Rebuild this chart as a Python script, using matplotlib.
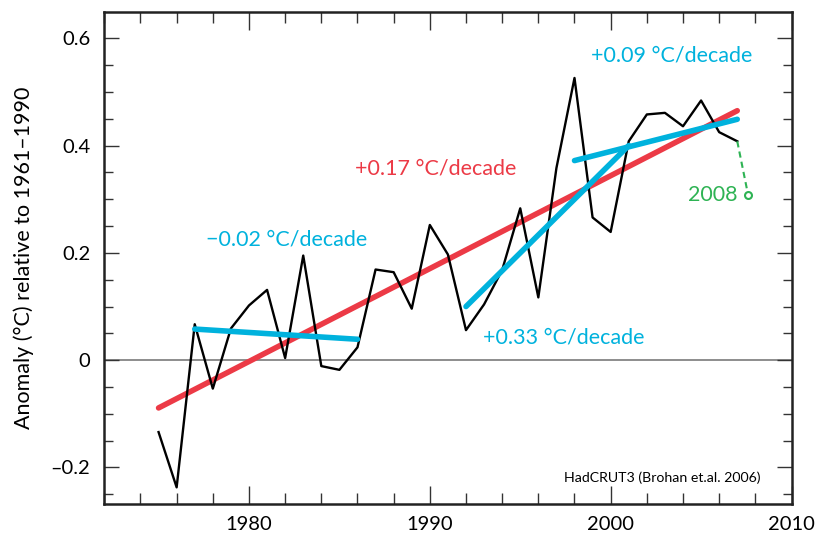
import matplotlib
matplotlib.use("Agg")
import matplotlib.pyplot as plt
from matplotlib.ticker import MultipleLocator

plt.rcParams['font.family'] = ['Lato', 'DejaVu Sans']

# HadCRUT3 annual anomalies
years = [1975, 1976, 1977, 1978, 1979, 1980, 1981, 1982, 1983, 1984, 1985,
         1986, 1987, 1988, 1989, 1990, 1991, 1992, 1993, 1994, 1995, 1996,
         1997, 1998, 1999, 2000, 2001, 2002, 2003, 2004, 2005, 2006, 2007]
anomaly = [-0.134, -0.237, 0.067, -0.053, 0.059, 0.102, 0.131, 0.004, 0.195,
           -0.011, -0.018, 0.024, 0.169, 0.164, 0.096, 0.252, 0.197, 0.056,
           0.104, 0.168, 0.283, 0.117, 0.358, 0.526, 0.266, 0.239, 0.408,
           0.458, 0.461, 0.436, 0.484, 0.425, 0.408]

# 2008 value (partial year), joined with a dashed line
recent_years = [2007, 2007.6]
recent_vals = [0.408, 0.308]

# trend lines (end points)
red_trend_x = [1975, 2007]
red_trend_y = [-0.089, 0.465]
blue_trends = [([1977, 1986], [0.058, 0.039]),
               ([1992, 2001], [0.100, 0.400]),
               ([1998, 2007], [0.372, 0.449])]

ytick_vals = [-0.2, 0, 0.2, 0.4, 0.6]
ytick_labels = ['\u20130.2', '0', '0.2', '0.4', '0.6']
xtick_vals = [1980, 1990, 2000, 2010]

RED = '#EC3A46'
BLUE = '#00B2DD'
GREEN = '#2EB354'

fig = plt.figure(figsize=(8.22, 5.37), dpi=100)
ax = fig.add_axes([0.1269, 0.0615, 0.8360, 0.9162])

ax.axhline(0, color='#7a7a7a', lw=1.2, zorder=1)
ax.plot(red_trend_x, red_trend_y, color=RED, lw=4, solid_capstyle='round', zorder=2)
ax.plot(years, anomaly, color='black', lw=1.7, zorder=3)
for tx, ty in blue_trends:
    ax.plot(tx, ty, color=BLUE, lw=4, solid_capstyle='round', zorder=4)
ax.plot(recent_years, recent_vals, color=GREEN, lw=1.5, ls=(0, (3, 2)), zorder=3)
ax.plot(recent_years[-1:], recent_vals[-1:], 'o', mfc='white', mec=GREEN,
        mew=1.5, ms=5, zorder=5)

fs = 15.5
ax.text(1982.1, 0.225, '\u22120.02 \u00b0C/decade', color=BLUE, fontsize=fs, ha='center', va='center')
ax.text(1990.3, 0.358, '+0.17 \u00b0C/decade', color=RED, fontsize=fs, ha='center', va='center')
ax.text(1997.4, 0.043, '+0.33 \u00b0C/decade', color=BLUE, fontsize=fs, ha='center', va='center')
ax.text(2003.4, 0.568, '+0.09 \u00b0C/decade', color=BLUE, fontsize=fs, ha='center', va='center')
ax.text(2007.0, 0.307, '2008', color=GREEN, fontsize=fs, ha='right', va='center')
ax.text(2008.3, -0.219, 'HadCRUT3 (Brohan et.al. 2006)', color='black', fontsize=10.2,
        ha='right', va='center')

ax.set_xlim(1972, 2010)
ax.set_ylim(-0.268, 0.649)
ax.set_xticks(xtick_vals)
ax.xaxis.set_minor_locator(MultipleLocator(2))
ax.set_yticks(ytick_vals)
ax.set_yticklabels(ytick_labels)
ax.yaxis.set_minor_locator(MultipleLocator(0.05))
ax.tick_params(axis='both', which='both', direction='in', top=True, right=True,
               labelsize=14.5, color='#333333')
ax.tick_params(axis='x', which='major', length=13, width=1, pad=9)
ax.tick_params(axis='x', which='minor', length=8, width=1)
ax.tick_params(axis='y', which='major', length=11, width=1, pad=10)
ax.tick_params(axis='y', which='minor', length=6.5, width=1)
for s in ax.spines.values():
    s.set_linewidth(1.8)
    s.set_color('#222222')

ax.set_ylabel('Anomaly (\u00b0C) relative to 1961\u20131990', fontsize=15.5, labelpad=12)

fig.savefig('out.png', dpi=100)
